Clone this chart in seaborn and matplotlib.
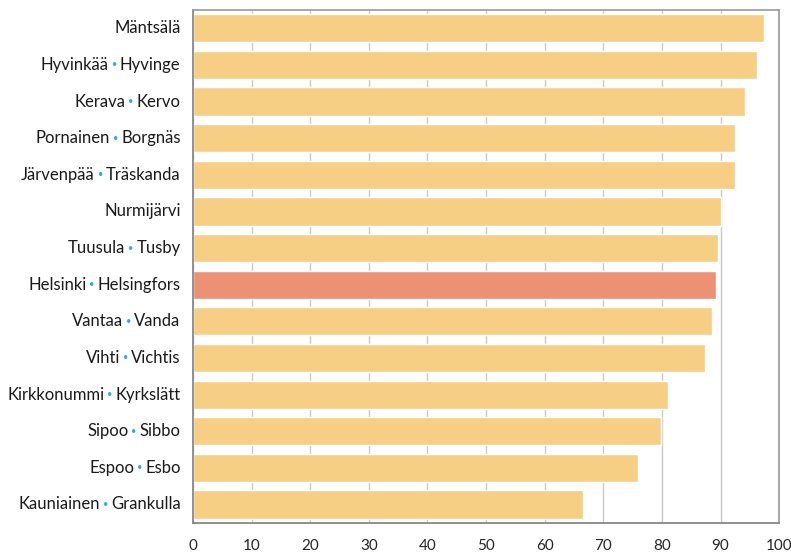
import matplotlib
matplotlib.use('Agg')
import matplotlib.pyplot as plt
import seaborn as sns
import pandas as pd

# values
municipalities = ['Mäntsälä', 'Hyvinkää • Hyvinge', 'Kerava • Kervo', 'Pornainen • Borgnäs',
                  'Järvenpää • Träskanda', 'Nurmijärvi', 'Tuusula • Tusby', 'Helsinki • Helsingfors',
                  'Vantaa • Vanda', 'Vihti • Vichtis', 'Kirkkonummi • Kyrkslätt', 'Sipoo • Sibbo',
                  'Espoo • Esbo', 'Kauniainen • Grankulla']
values = [97.4, 96.2, 94.2, 92.5, 92.4, 90.0, 89.5, 89.2, 88.5, 87.3, 81.0, 79.9, 75.9, 66.6]
highlight = 'Helsinki • Helsingfors'
x_ticks = [0, 10, 20, 30, 40, 50, 60, 70, 80, 90, 100]

bar_color = '#F6CF85'
hl_color = '#EC9174'
dot_color = '#29ABE2'

df = pd.DataFrame({'name': municipalities, 'value': values})
colors = [hl_color if n == highlight else bar_color for n in municipalities]

sns.set_style('white')
plt.rcParams['font.family'] = ['Lato', 'DejaVu Sans']

fig = plt.figure(figsize=(7.91, 5.55), dpi=100)
ax = fig.add_axes([0.244, 0.058, 0.741, 0.924])

sns.barplot(data=df, x='value', y='name', hue='name', palette=colors, legend=False,
            width=0.77, saturation=1, ax=ax, zorder=2)

ax.set_xlim(0, 100)
ax.set_ylim(len(municipalities) - 0.5, -0.5)
ax.set_xticks(x_ticks)
ax.set_xticklabels([str(t) for t in x_ticks], fontsize=11)
ax.tick_params(axis='x', length=4, width=1, color='#888888', direction='out', pad=8)
ax.xaxis.grid(True, color='#c8c8c8', linewidth=1, zorder=0)
ax.set_axisbelow(True)
ax.set_xlabel('')
ax.set_ylabel('')

# ticks between categories on the y axis
ax.set_yticks([i + 0.5 for i in range(-1, len(municipalities))])
ax.set_yticklabels([])
ax.tick_params(axis='y', length=4, width=1, color='#888888', direction='out')

for side in ['left', 'bottom']:
    ax.spines[side].set_color('#888888')
    ax.spines[side].set_linewidth(1.3)
for side in ['top', 'right']:
    ax.spines[side].set_color('#999999')
    ax.spines[side].set_linewidth(1.2)

# labels with a cyan dot between Finnish and Swedish names
renderer = fig.canvas.get_renderer()
pad = 9
gap = 2
fs = 12
for i, name in enumerate(municipalities):
    parts = name.split(' • ')
    t = ax.annotate(parts[-1], xy=(0, i), xycoords=ax.get_yaxis_transform(),
                    xytext=(-pad, 0), textcoords='offset points',
                    ha='right', va='center', fontsize=fs, color='#1a1a1a')
    if len(parts) == 2:
        w = t.get_window_extent(renderer).width * 72 / fig.dpi
        off = pad + w + gap
        d = ax.annotate('•', xy=(0, i), xycoords=ax.get_yaxis_transform(),
                        xytext=(-off, 0), textcoords='offset points',
                        ha='right', va='center', fontsize=6.5, color=dot_color)
        dw = d.get_window_extent(renderer).width * 72 / fig.dpi
        ax.annotate(parts[0], xy=(0, i), xycoords=ax.get_yaxis_transform(),
                    xytext=(-(off + dw + gap), 0), textcoords='offset points',
                    ha='right', va='center', fontsize=fs, color='#1a1a1a')

fig.savefig('out.png', dpi=100)
plt.close()
